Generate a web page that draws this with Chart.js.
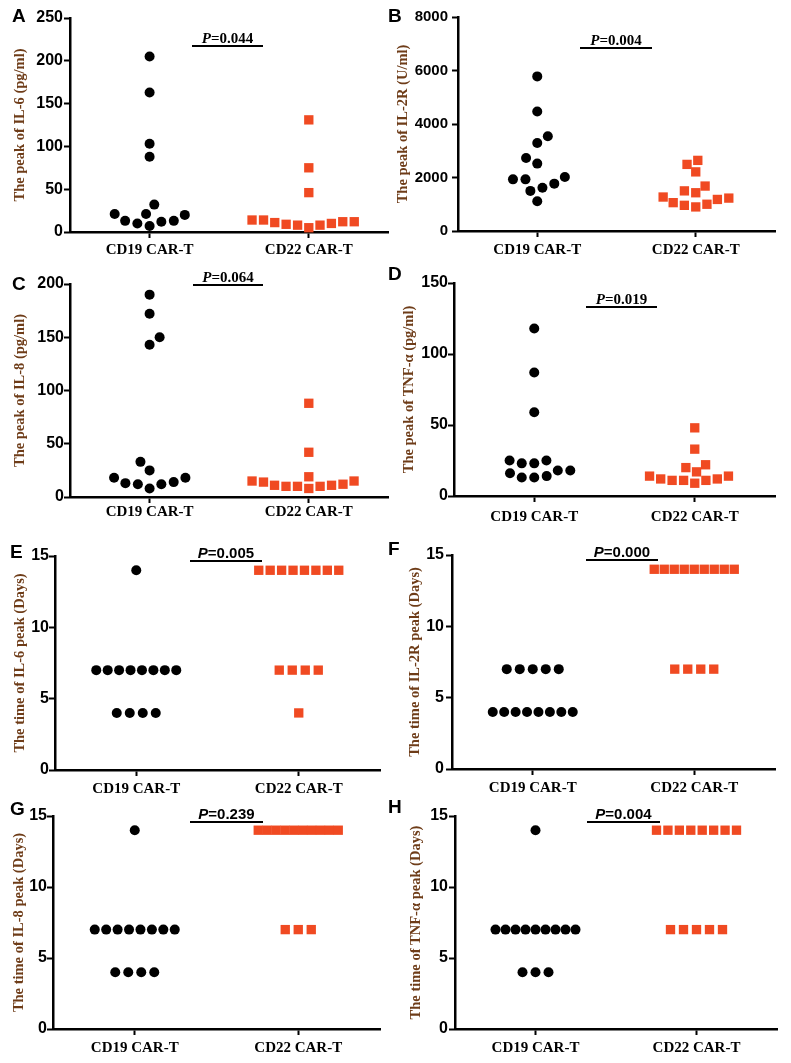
<!DOCTYPE html>
<html><head><meta charset="utf-8">
<script src="https://cdn.jsdelivr.net/npm/chart.js@4.4.1/dist/chart.umd.min.js"></script>
<style>
html,body{margin:0;padding:0;background:#fff;}
#fig{position:relative;width:791px;height:1063px;overflow:hidden;background:#fff;}
#fig canvas{position:absolute;}
</style></head><body><div id="fig"></div>
<script>
// ---------- data ----------
const groups = ['CD19 CAR-T', 'CD22 CAR-T'];

// A: peak IL-6 (pg/ml)
const il6Peak19 = [205, 163, 103, 88, 21, 13, 12, 32, 21, 7, 10, 13, 20];
const il6Peak22 = [131, 75, 46, 12, 10, 8, 14, 5, 12, 8, 14, 9, 11];
// B: peak IL-2R (U/ml)
const il2rPeak19 = [5780, 4470, 3540, 3290, 2730, 2520, 1930, 1770, 1620, 1930, 2020, 1500, 1110];
const il2rPeak22 = [2640, 2210, 2490, 1500, 1430, 1680, 1270, 1180, 1000, 900, 960, 1060, 1230];
// C: peak IL-8 (pg/ml)
const il8Peak19 = [190, 172, 143, 150, 18, 14, 12, 33, 25, 8, 12, 13, 18];
const il8Peak22 = [88, 42, 12, 11, 19, 10, 15, 8, 14, 10, 15, 10, 11];
// D: peak TNF-alpha (pg/ml)
const tnfPeak19 = [118, 87, 59, 25, 23, 23, 25, 18, 14, 13, 13, 16, 18];
const tnfPeak22 = [48, 33, 22, 20, 14, 12, 11, 17, 9, 14, 11, 11, 12];
// E: time of IL-6 peak (days)
const il6Day19 = [14, 7, 7, 7, 7, 7, 7, 7, 7, 4, 4, 4, 4];
const il6Day22 = [14, 14, 14, 14, 14, 14, 14, 14, 7, 7, 7, 7, 4];
// F: time of IL-2R peak (days)
const il2rDay19 = [7, 7, 7, 7, 7, 4, 4, 4, 4, 4, 4, 4, 4];
const il2rDay22 = [14, 14, 14, 14, 14, 14, 14, 14, 14, 7, 7, 7, 7];
// G: time of IL-8 peak (days)
const il8Day19 = [14, 7, 7, 7, 7, 7, 7, 7, 7, 4, 4, 4, 4];
const il8Day22 = [14, 14, 14, 14, 14, 14, 14, 14, 14, 14, 7, 7, 7];
// H: time of TNF-alpha peak (days)
const tnfDay19 = [14, 7, 7, 7, 7, 7, 7, 7, 7, 7, 4, 4, 4];
const tnfDay22 = [14, 14, 14, 14, 14, 14, 14, 14, 7, 7, 7, 7, 7];

// tick labels
const ticksIL6 = [0, 50, 100, 150, 200, 250];
const ticksIL2R = [0, 2000, 4000, 6000, 8000];
const ticksIL8 = [0, 50, 100, 150, 200];
const ticksTNF = [0, 50, 100, 150];
const ticksDays = [0, 5, 10, 15];

// p-values
const pValues = ['0.044', '0.004', '0.064', '0.019', '0.005', '0.000', '0.239', '0.004'];

// ---------- styles / layout ----------
const SERIF = '"Liberation Serif", "Times New Roman", serif';
const SANS = '"Liberation Sans", Arial, sans-serif';
const TITLE_COLOR = '#6E3C18';
const SQUARE_COLOR = '#F04A22';

const panels = [
  {letter:'A', v19:il6Peak19, v22:il6Peak22, ticks:ticksIL6, title:'The peak of IL-6 (pg/ml)', p:pValues[0], serifP:true,
   cv:{l:0,t:0,w:395,h:265}, ax:{x:70,top:18,bottom:232,right:390}, titleX:20, L:{x:12,y:22}, pb:{x0:192,x1:263,y:46}, gap:18, tick:16, yPad:1},
  {letter:'B', v19:il2rPeak19, v22:il2rPeak22, ticks:ticksIL2R, title:'The peak of IL-2R (U/ml)', p:pValues[1], serifP:true,
   cv:{l:385,t:0,w:406,h:265}, ax:{x:458,top:17,bottom:231,right:775}, titleX:403, L:{x:388,y:22}, pb:{x0:580,x1:652,y:48}, gap:19, tick:15, yPad:4},
  {letter:'C', v19:il8Peak19, v22:il8Peak22, ticks:ticksIL8, title:'The peak of IL-8 (pg/ml)', p:pValues[2], serifP:true,
   cv:{l:0,t:262,w:395,h:268}, ax:{x:70,top:284,bottom:497,right:390}, titleX:20, L:{x:12,y:290}, pb:{x0:193,x1:263,y:285}, gap:12, tick:16, yPad:0},
  {letter:'D', v19:tnfPeak19, v22:tnfPeak22, ticks:ticksTNF, title:'The peak of TNF-α (pg/ml)', p:pValues[3], serifP:true,
   cv:{l:385,t:262,w:406,h:268}, ax:{x:454,top:283,bottom:496,right:775}, titleX:409, L:{x:388,y:280}, pb:{x0:586,x1:657,y:307}, gap:21, tick:16, yPad:0},
  {letter:'E', v19:il6Day19, v22:il6Day22, ticks:ticksDays, title:'The time of IL-6 peak (Days)', p:pValues[4], serifP:false, discrete:true,
   cv:{l:0,t:522,w:395,h:280}, ax:{x:55,top:556,bottom:770,right:380}, titleX:20, L:{x:10,y:558}, pb:{x0:190,x1:262,y:561}, gap:19, tick:16, yPad:0},
  {letter:'F', v19:il2rDay19, v22:il2rDay22, ticks:ticksDays, title:'The time of IL-2R peak (Days)', p:pValues[5], serifP:false, discrete:true,
   cv:{l:385,t:522,w:406,h:280}, ax:{x:452,top:555,bottom:769,right:775}, titleX:415, L:{x:388,y:555}, pb:{x0:586,x1:658,y:560}, gap:19, tick:16, yPad:2},
  {letter:'G', v19:il8Day19, v22:il8Day22, ticks:ticksDays, title:'The time of IL-8 peak (Days)', p:pValues[6], serifP:false, discrete:true,
   cv:{l:0,t:790,w:395,h:273}, ax:{x:53,top:816,bottom:1029,right:380}, titleX:19, L:{x:10,y:815}, pb:{x0:190,x1:263,y:822}, gap:19, tick:16, yPad:0},
  {letter:'H', v19:tnfDay19, v22:tnfDay22, ticks:ticksDays, title:'The time of TNF-α peak (Days)', p:pValues[7], serifP:false, discrete:true,
   cv:{l:385,t:790,w:406,h:273}, ax:{x:455,top:816,bottom:1029,right:777}, titleX:416, L:{x:388,y:813}, pb:{x0:587,x1:660,y:822}, gap:19, tick:16, yPad:1}
];

// ---------- point spreading (beeswarm / rows) ----------
function swarm(py, d) {
  const n = py.length, xs = new Array(n).fill(0);
  const order = py.map((_, i) => i).sort((a, b) => py[b] - py[a]); // lowest value first
  const placed = [];
  for (const i of order) {
    const y = py[i], iv = [];
    for (const p of placed) {
      const dy = Math.abs(p.y - y);
      if (dy < d) { const w = Math.sqrt(d * d - dy * dy); iv.push([p.x - w, p.x + w]); }
    }
    const cands = [0];
    iv.forEach(([a, b]) => cands.push(a, b));
    const ok = cands.filter(c => iv.every(([a, b]) => c <= a + 1e-6 || c >= b - 1e-6));
    const left = placed.filter(p => p.x < -0.5).length, right = placed.filter(p => p.x > 0.5).length;
    ok.sort((u, v) => (Math.abs(u) - Math.abs(v)) || (left <= right ? u - v : v - u));
    xs[i] = ok[0];
    placed.push({x: ok[0], y});
  }
  return xs;
}
function rows(py) {
  const xs = new Array(py.length).fill(0), map = new Map();
  py.forEach((y, i) => { const k = Math.round(y); if (!map.has(k)) map.set(k, []); map.get(k).push(i); });
  for (const idx of map.values()) {
    const n = idx.length, s = n > 1 ? Math.min(13, 80 / (n - 1)) : 0;
    idx.forEach((i, k) => { xs[i] = (k - (n - 1) / 2) * s; });
  }
  return xs;
}

// ---------- annotation plugin (per panel) ----------
function makeAnnot(P) {
  return {
    id: 'annot' + P.letter,
    afterDraw(chart) {
      const ctx = chart.ctx, ox = P.cv.l, oy = P.cv.t;
      ctx.save();
      ctx.strokeStyle = '#000'; ctx.lineWidth = 2;
      ctx.beginPath(); ctx.moveTo(P.pb.x0 - ox, P.pb.y - oy); ctx.lineTo(P.pb.x1 - ox, P.pb.y - oy); ctx.stroke();
      const fam = P.serifP ? SERIF : SANS;
      ctx.fillStyle = '#000'; ctx.textBaseline = 'alphabetic'; ctx.textAlign = 'left';
      ctx.font = 'italic bold 15px ' + fam; const wP = ctx.measureText('P').width;
      ctx.font = 'bold 15px ' + fam; const rest = '=' + P.p; const wR = ctx.measureText(rest).width;
      const sx = (P.pb.x0 + P.pb.x1) / 2 - ox - (wP + wR) / 2, by = P.pb.y - oy - 3;
      ctx.font = 'italic bold 15px ' + fam; ctx.fillText('P', sx, by);
      ctx.font = 'bold 15px ' + fam; ctx.fillText(rest, sx + wP, by);
      ctx.font = 'bold 19px ' + SANS;
      ctx.fillText(P.letter, P.L.x - ox, P.L.y - oy);
      ctx.restore();
    }
  };
}

const fig = document.getElementById('fig');
panels.forEach(P => {
  const cv = document.createElement('canvas');
  cv.width = P.cv.w; cv.height = P.cv.h;
  cv.style.left = P.cv.l + 'px'; cv.style.top = P.cv.t + 'px';
  cv.style.width = P.cv.w + 'px'; cv.style.height = P.cv.h + 'px';
  fig.appendChild(cv);

  const xFont = 15, xLH = xFont * 1.2;
  const tickGrid = {display: true, drawOnChartArea: false, drawTicks: true, tickLength: 6, tickWidth: 2, tickColor: '#000'};
  const border = {display: true, color: '#000', width: 2.5};
  const tFont = 14.5, tLH = tFont * 1.2;

  const chart = new Chart(cv.getContext('2d'), {
    type: 'scatter',
    data: {
      datasets: [
        {label: groups[0], data: P.v19.map(v => ({x: 0, y: v})), pointStyle: 'circle', pointRadius: 5, pointHoverRadius: 5,
         pointBackgroundColor: '#000', pointBorderWidth: 0, clip: false},
        {label: groups[1], data: P.v22.map(v => ({x: 1, y: v})), pointStyle: 'rect', pointRadius: 6.6, pointHoverRadius: 6.6,
         pointBackgroundColor: SQUARE_COLOR, pointBorderWidth: 0, clip: false}
      ]
    },
    options: {
      responsive: false, animation: false, events: [], devicePixelRatio: 1,
      layout: {padding: {left: 0, top: P.ax.top - P.cv.t, right: P.cv.l + P.cv.w - P.ax.right, bottom: 0}},
      plugins: {legend: {display: false}, tooltip: {enabled: false}},
      scales: {
        x: {
          type: 'linear', min: -0.5, max: 1.5,
          afterBuildTicks: s => { s.ticks = [{value: 0}, {value: 1}]; },
          afterFit: s => { s.height = P.cv.t + P.cv.h - P.ax.bottom; },
          ticks: {callback: v => groups[v], font: {family: SERIF, weight: 'bold', size: xFont}, color: '#000',
                  padding: Math.max(0, P.gap - 6 - xLH / 2), maxRotation: 0, autoSkip: false},
          grid: tickGrid, border: border
        },
        y: {
          type: 'linear', min: P.ticks[0], max: P.ticks[P.ticks.length - 1],
          afterBuildTicks: s => { s.ticks = P.ticks.map(v => ({value: v})); },
          afterFit: s => { s.width = P.ax.x - P.cv.l; },
          ticks: {callback: v => String(v), font: {family: SANS, weight: 'bold', size: P.tick}, color: '#000', padding: P.yPad},
          grid: tickGrid, border: border,
          title: {display: true, text: P.title, color: TITLE_COLOR, font: {family: SERIF, weight: 'bold', size: tFont},
                  padding: {top: P.titleX - P.cv.l - tLH / 2, bottom: 0}}
        }
      }
    },
    plugins: [makeAnnot(P)]
  });

  const xs = chart.scales.x, ys = chart.scales.y;
  const ppu = xs.getPixelForValue(1) - xs.getPixelForValue(0);
  [P.v19, P.v22].forEach((vals, g) => {
    const py = vals.map(v => ys.getPixelForValue(v));
    const off = P.discrete ? rows(py) : swarm(py, g === 0 ? 12.5 : 11.5);
    chart.data.datasets[g].data = vals.map((v, i) => ({x: g + off[i] / ppu, y: v}));
  });
  chart.update('none');
});
</script>
</body></html>
